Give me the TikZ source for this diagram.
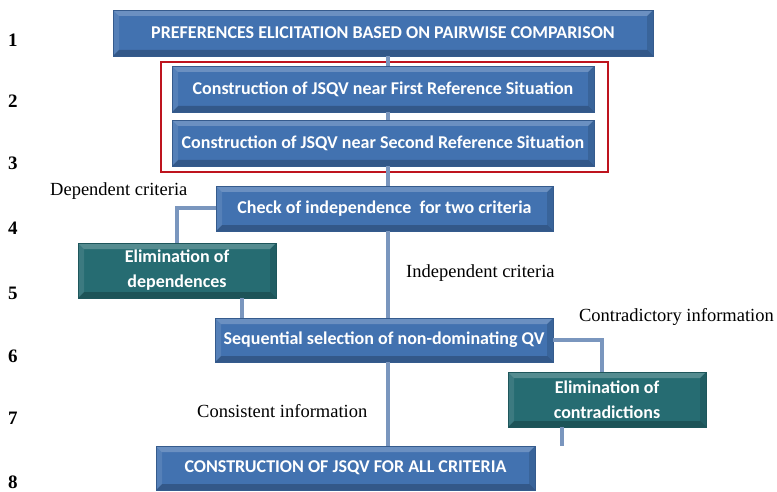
\documentclass[tikz,border=0pt]{standalone}
\usepackage{fontspec}
\setmainfont{Liberation Serif}
\newfontfamily\boxfont{Carlito}
\usetikzlibrary{calc}
\definecolor{boxblue}{RGB}{66,114,176}
\definecolor{boxteal}{RGB}{38,108,114}
\definecolor{linkcol}{RGB}{122,150,190}
\definecolor{framered}{RGB}{190,20,30}
\tikzset{
  bevel/.style={path picture={
    \fill[white,opacity=0.22] (path picture bounding box.north west) -- (path picture bounding box.north east)
      -- ([xshift=-6pt,yshift=-6pt]path picture bounding box.north east) -- ([xshift=6pt,yshift=-6pt]path picture bounding box.north west) -- cycle;
    \fill[black,opacity=0.22] (path picture bounding box.south west) -- (path picture bounding box.south east)
      -- ([xshift=-6pt,yshift=6pt]path picture bounding box.south east) -- ([xshift=6pt,yshift=6pt]path picture bounding box.south west) -- cycle;
    \fill[white,opacity=0.10] (path picture bounding box.north west) -- ([xshift=6pt,yshift=-6pt]path picture bounding box.north west)
      -- ([xshift=6pt,yshift=6pt]path picture bounding box.south west) -- (path picture bounding box.south west) -- cycle;
    \fill[black,opacity=0.12] (path picture bounding box.north east) -- ([xshift=-6pt,yshift=-6pt]path picture bounding box.north east)
      -- ([xshift=-6pt,yshift=6pt]path picture bounding box.south east) -- (path picture bounding box.south east) -- cycle;
  }},
  stepbox/.style={bevel, fill=boxblue, draw=boxblue!80!black, line width=0.6pt, text=white,
    font=\boxfont\bfseries\fontsize{18}{21}\selectfont, align=center, inner sep=0pt},
  fixbox/.style={stepbox, fill=boxteal, draw=boxteal!80!black, font=\boxfont\bfseries\fontsize{18}{25}\selectfont},
  link/.style={draw=linkcol, line width=4pt},
  lbl/.style={font=\fontsize{18.5}{20}\selectfont, inner sep=0pt},
  num/.style={font=\bfseries\fontsize{19}{20}\selectfont, inner sep=0pt}
}
\begin{document}
\begin{tikzpicture}[x=1pt,y=-1pt]
\useasboundingbox (0,0) rectangle (777,492);
\fill[white] (0,0) rectangle (777,492);

% step boxes
\node[stepbox, minimum width=540pt, minimum height=46pt] (top) at (383,33) {PREFERENCES ELICITATION BASED ON PAIRWISE COMPARISON};
\node[stepbox, minimum width=422pt, minimum height=46pt] (b2) at (383,89) {Construction of JSQV near First Reference Situation};
\node[stepbox, minimum width=422pt, minimum height=46pt] (b3) at (383,143) {Construction of JSQV near Second Reference Situation};
\node[stepbox, minimum width=337pt, minimum height=45pt] (b4) at (384.5,208.5) {Check of independence\ \ for two\ criteria};
\node[fixbox, minimum width=198pt, minimum height=55pt] (b5) at (177,270.5) {Elimination of\\dependences};
\node[stepbox, minimum width=338pt, minimum height=44pt] (b6) at (384,340) {Sequential selection of non-dominating QV};
\node[fixbox, minimum width=198pt, minimum height=55pt] (b7) at (607,399.5) {Elimination of\\contradictions};
\node[stepbox, minimum width=379pt, minimum height=44pt] (b8) at (345.5,468) {CONSTRUCTION OF JSQV FOR ALL CRITERIA};

% frame around the two reference-situation steps
\draw[framered, line width=1.3pt] (161,62) rectangle (608,172);

% connectors
\coordinate (spine) at (388,0);
\coordinate (dep) at (242,0);
\coordinate (con) at (562,0);
\path[link] (spine |- top.south) -- (spine |- b2.north);
\path[link] (spine |- b2.south) -- (spine |- b3.north);
\path[link] (spine |- b3.south) -- (spine |- b4.north);
\path[link] (spine |- b4.south) -- (spine |- b6.north);
\path[link] (spine |- b6.south) -- (spine |- b8.north);
\path[link] (b4.west) -| (b5.north);
\path[link] (dep |- b5.south) -- (dep |- b6.north);
\path[link] (b6.east) -| ([xshift=-5pt]b7.north);
\path[link] (con |- b7.south) -- (con |- b8.north);

% branch labels
\node[lbl, anchor=west] (ldep) at (50,191) {Dependent criteria};
\node[lbl, anchor=west] (lind) at (406,273) {Independent criteria};
\node[lbl, anchor=east] (lcontra) at (774,317) {Contradictory information};
\node[lbl, anchor=west] (lcons) at (197,411) {Consistent information};

% step numbers
\node[num] (n1) at (13,40) {1};
\node[num] (n2) at (13,101) {2};
\node[num] (n3) at (13,163) {3};
\node[num] (n4) at (13,228) {4};
\node[num] (n5) at (13,293) {5};
\node[num] (n6) at (13,356) {6};
\node[num] (n7) at (13,418) {7};
\node[num] (n8) at (13,482) {8};
\end{tikzpicture}
\end{document}
